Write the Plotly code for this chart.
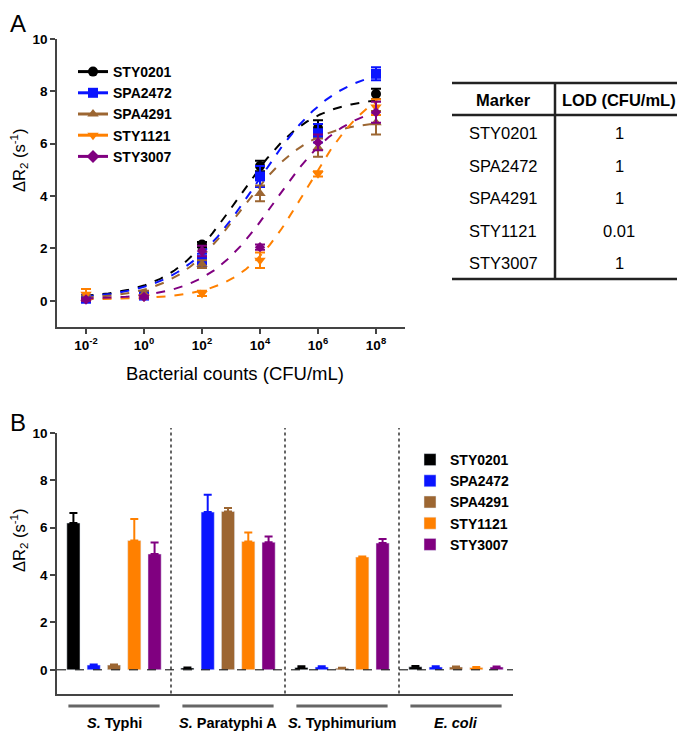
import numpy as np
import plotly.graph_objects as go

W, H = 685, 733
# the page body keeps its default 8px margin, so reference pixels are shifted by it
OFF = 8

markers = ["STY0201", "SPA2472", "SPA4291", "STY1121", "STY3007"]
colors = ["#000000", "#0a14ff", "#9c6632", "#ff8000", "#800080"]
symbols = ["circle", "square", "triangle-up", "triangle-down", "diamond"]

# Panel A: dose response (CFU/mL vs dR2)
cfu = [1e-2, 1e0, 1e2, 1e4, 1e6, 1e8]
resp = {
    "STY0201": [0.10, 0.22, 2.15, 5.15, 6.60, 7.90],
    "SPA2472": [0.08, 0.20, 1.55, 4.75, 6.40, 8.67],
    "SPA4291": [0.10, 0.28, 1.40, 4.10, 5.85, 6.80],
    "STY1121": [0.25, 0.15, 0.28, 1.55, 4.85, 7.40],
    "STY3007": [0.05, 0.15, 1.90, 2.05, 6.05, 7.20],
}
resp_err = {
    "STY0201": [0.05, 0.10, 0.10, 0.20, 0.30, 0.20],
    "SPA2472": [0.05, 0.05, 0.25, 0.40, 0.35, 0.25],
    "SPA4291": [0.10, 0.10, 0.15, 0.30, 0.35, 0.45],
    "STY1121": [0.20, 0.05, 0.10, 0.30, 0.10, 0.30],
    "STY3007": [0.05, 0.05, 0.20, 0.10, 0.30, 0.40],
}
# fitted 4-parameter logistic: bottom, top, logEC50, hill slope
fit_bottom = [0.10, 0.05, 0.05, 0.05, 0.05]
fit_top = [7.80, 9.00, 6.90, 8.50, 7.60]
fit_logec50 = [3.26, 3.90, 3.35, 5.60, 4.53]
fit_hill = [0.36, 0.32, 0.37, 0.383, 0.36]

# LOD table
table_marker = ["STY0201", "SPA2472", "SPA4291", "STY1121", "STY3007"]
table_lod = ["1", "1", "1", "0.01", "1"]

# Panel B: specificity
groups = ["S. Typhi", "S. Paratyphi A", "S. Typhimurium", "E. coli"]
group_labels = ["<i>S.</i> Typhi", "<i>S.</i> Paratyphi A", "<i>S.</i> Typhimurium", "<i>E. coli</i>"]
spec = {
    "STY0201": [6.20, 0.08, 0.10, 0.13],
    "SPA2472": [0.20, 6.66, 0.12, 0.12],
    "SPA4291": [0.20, 6.69, 0.07, 0.12],
    "STY1121": [5.46, 5.42, 4.76, 0.10],
    "STY3007": [4.89, 5.39, 5.35, 0.12],
}
spec_err = {
    "STY0201": [0.42, 0.02, 0.05, 0.03],
    "SPA2472": [0.02, 0.73, 0.03, 0.03],
    "SPA4291": [0.02, 0.14, 0.02, 0.02],
    "STY1121": [0.91, 0.38, 0.03, 0.02],
    "STY3007": [0.49, 0.24, 0.17, 0.02],
}

FONT = "Arial, Liberation Sans, sans-serif"
YTITLE = "ΔR<sub>2</sub> (s<sup>-1</sup>)"


def px(x):
    return (x - OFF) / W


def py(y):
    return 1 - (y - OFF) / H


def note(text, x, y, size=16.5, bold=False, **kw):
    return dict(text=text, x=x, y=y, xref=kw.pop("xref", "paper"), yref="paper",
                xanchor=kw.pop("xanchor", "center"), yanchor=kw.pop("yanchor", "middle"),
                textangle=kw.pop("textangle", 0), showarrow=False,
                font=dict(family=FONT, size=size, color="#000000",
                          weight="bold" if bold else "normal"))


fig = go.Figure()

# --- panel A
xs = np.linspace(-2.05, 8.05, 200)
for i, m in enumerate(markers):
    b, t, c, h = fit_bottom[i], fit_top[i], fit_logec50[i], fit_hill[i]
    ys = b + (t - b) / (1 + 10 ** ((c - xs) * h))
    fig.add_trace(go.Scatter(
        x=10 ** xs, y=ys, mode="lines",
        line=dict(color=colors[i], width=2, dash="dash"),
        showlegend=False, hoverinfo="skip", xaxis="x", yaxis="y",
    ))
for i, m in enumerate(markers):
    fig.add_trace(go.Scatter(
        x=cfu, y=resp[m], mode="markers",
        marker=dict(color=colors[i], symbol=symbols[i],
                    size=8 if symbols[i] == "diamond" else 10),
        error_y=dict(type="data", array=resp_err[m], color=colors[i],
                     thickness=2, width=5),
        showlegend=False, xaxis="x", yaxis="y",
    ))
for i, m in enumerate(markers):
    fig.add_trace(go.Scatter(
        x=[None], y=[None], mode="lines+markers", name=m,
        line=dict(color=colors[i], width=3),
        marker=dict(color=colors[i], symbol=symbols[i], size=10),
        legend="legend", xaxis="x", yaxis="y",
    ))

# --- panel B
for i, m in enumerate(markers):
    fig.add_trace(go.Bar(
        x=groups, y=spec[m], name=m, marker_color=colors[i],
        error_y=dict(type="data", array=spec_err[m], arrayminus=[0] * 4,
                     symmetric=False, color=colors[i], thickness=2, width=4),
        legend="legend2", xaxis="x2", yaxis="y2",
    ))

axis_line = dict(showline=True, linecolor="#444444", linewidth=1.5,
                 ticks="outside", ticklen=5, tickwidth=1.5, tickcolor="#444444",
                 showgrid=False, zeroline=False, automargin=False)
tickfont = dict(family=FONT, size=13.5, color="#000000", weight="bold")

fig.update_layout(
    width=W, height=H,
    margin=dict(l=0, r=0, t=0, b=0, autoexpand=False),
    paper_bgcolor="white", plot_bgcolor="white",
    font=dict(family=FONT, color="#000000"),
    barmode="group", bargap=0.11, bargroupgap=0.35,
    xaxis=dict(type="log", range=[-3, 9], domain=[px(57), px(405)],
               tickvals=cfu,
               ticktext=["10<sup>-2</sup>", "10<sup>0</sup>", "10<sup>2</sup>",
                         "10<sup>4</sup>", "10<sup>6</sup>", "10<sup>8</sup>"],
               tickfont=tickfont, anchor="y", **axis_line),
    yaxis=dict(range=[-1, 10], domain=[py(327), py(39)],
               tickvals=[0, 2, 4, 6, 8, 10], tickfont=tickfont, anchor="x",
               **axis_line),
    xaxis2=dict(type="category", range=[-0.5, 3.5], domain=[px(57), px(513)],
                showticklabels=False, anchor="y2", automargin=False,
                showline=True, linecolor="#444444", linewidth=1.5,
                ticks="", showgrid=False, zeroline=False),
    yaxis2=dict(range=[-1, 10], domain=[py(693.5), py(433)],
                tickvals=[0, 2, 4, 6, 8, 10], tickfont=tickfont, anchor="x2",
                **axis_line),
    legend=dict(x=px(73), y=py(56), xanchor="left", yanchor="top",
                font=dict(family=FONT, size=14, weight="bold"),
                bgcolor="rgba(0,0,0,0)", tracegroupgap=0, itemwidth=30),
    legend2=dict(x=px(410), y=py(444), xanchor="left", yanchor="top",
                 font=dict(family=FONT, size=14, weight="bold"),
                 bgcolor="rgba(0,0,0,0)", tracegroupgap=0),
)

shapes = []
annotations = []

# panel letters and axis titles
annotations.append(note("A", px(8), py(8), size=24, xanchor="left", yanchor="top"))
annotations.append(note("B", px(8), py(407), size=24, xanchor="left", yanchor="top"))
annotations.append(note("Bacterial counts (CFU/mL)", px(235), py(373), size=18.5))
annotations.append(note(YTITLE, px(19), py(161), size=16.5, textangle=-90))
annotations.append(note(YTITLE, px(19), py(541), size=16.5, textangle=-90))

# LOD table
tl, tr, tv = 452, 683, 555
line = dict(color="#222222", width=2.5)
for yy in (83, 115, 279):
    shapes.append(dict(type="line", xref="paper", yref="paper",
                       x0=px(tl), x1=px(tr), y0=py(yy), y1=py(yy), line=line))
shapes.append(dict(type="line", xref="paper", yref="paper",
                   x0=px(tv), x1=px(tv), y0=py(83), y1=py(279), line=line))
annotations.append(note("Marker", px(503), py(100), bold=True))
annotations.append(note("LOD (CFU/mL)", px(619), py(100), bold=True))
row_y = [133, 166, 198, 231, 263]
for m, lod, yy in zip(table_marker, table_lod, row_y):
    annotations.append(note(m, px(503), py(yy)))
    annotations.append(note(lod, px(619), py(yy)))

# panel B decorations
shapes.append(dict(type="line", xref="x2", yref="y2", x0=-0.5, x1=3.5, y0=0, y1=0,
                   line=dict(color="#000000", width=1, dash="dash")))
for k in range(1, 4):
    shapes.append(dict(type="line", xref="x2", yref="paper", x0=k - 0.5, x1=k - 0.5,
                       y0=py(693.5), y1=py(428),
                       line=dict(color="#000000", width=1.2, dash="dot")))
for k, lab in enumerate(group_labels):
    shapes.append(dict(type="line", xref="x2", yref="paper", x0=k - 0.4, x1=k + 0.4,
                       y0=py(706), y1=py(706), line=dict(color="#666666", width=3)))
    annotations.append(note(lab, k, py(723), size=14.5, bold=True, xref="x2"))

fig.update_layout(shapes=shapes, annotations=annotations)

fig.write_html("out.html")
